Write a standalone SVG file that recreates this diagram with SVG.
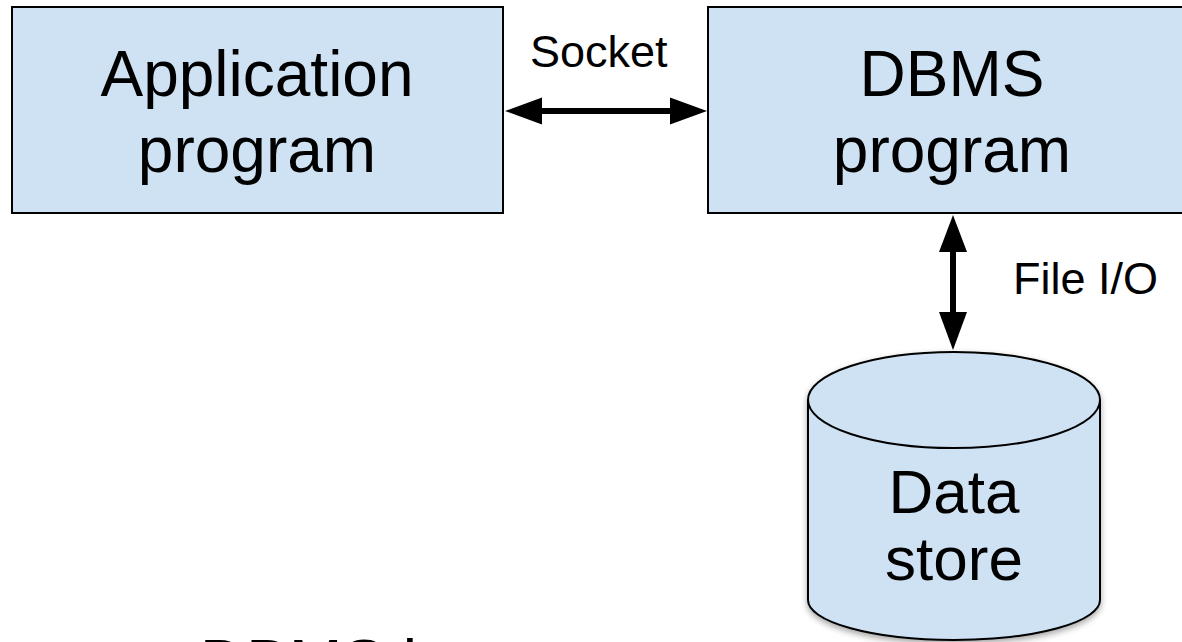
<svg xmlns="http://www.w3.org/2000/svg" width="1182" height="642" viewBox="0 0 1182 642">
  <style>
    .box { fill: #cfe2f3; stroke: #000; stroke-width: 2; }
    .big { font-family: "Liberation Sans", Arial, sans-serif; font-size: 64px; fill: #000; text-anchor: middle; }
    .lbl { font-family: "Liberation Sans", Arial, sans-serif; font-size: 45px; fill: #000; }
    .line { stroke: #000; stroke-width: 6; fill: none; }
    .head { fill: #000; }
  </style>
  <defs>
    <filter id="shadow" x="-10%" y="-10%" width="120%" height="130%">
      <feDropShadow dx="0" dy="3" stdDeviation="3" flood-color="#000" flood-opacity="0.35"/>
    </filter>
  </defs>
  <rect width="1182" height="642" fill="#fff"/>

  <g id="app">
    <rect class="box" x="12" y="7" width="491" height="206"/>
    <text class="big" x="257" y="96">Application</text>
    <text class="big" x="257" y="172">program</text>
  </g>

  <g id="dbms">
    <rect class="box" x="708" y="7" width="491" height="206"/>
    <text class="big" x="952" y="96">DBMS</text>
    <text class="big" x="952" y="172">program</text>
  </g>

  <g id="datastore">
    <path class="box" filter="url(#shadow)" d="M808,400 A146,48 0 0 1 1100,400 L1100,600 A146,40 0 0 1 808,600 Z"/>
    <path class="box" style="fill:none" d="M808,400 A146,48 0 0 0 1100,400"/>
    <text class="big" x="954" y="513" style="font-size:62px">Data</text>
    <text class="big" x="954" y="580" style="font-size:62px">store</text>
  </g>

  <g id="connectors">
    <line class="line" x1="540" y1="111" x2="672" y2="111"/>
    <polygon class="head" points="505,111 542,97.5 542,124.5"/>
    <polygon class="head" points="707,111 670,97.5 670,124.5"/>
    <text class="lbl" x="530" y="67">Socket</text>

    <line class="line" x1="953" y1="250" x2="953" y2="314"/>
    <polygon class="head" points="953,215 939,252 967,252"/>
    <polygon class="head" points="953,350 939,312 967,312"/>
    <text class="lbl" x="1013" y="294">File I/O</text>
  </g>

  <text class="big" x="200" y="685" style="text-anchor:start">DBMS l</text>
</svg>
